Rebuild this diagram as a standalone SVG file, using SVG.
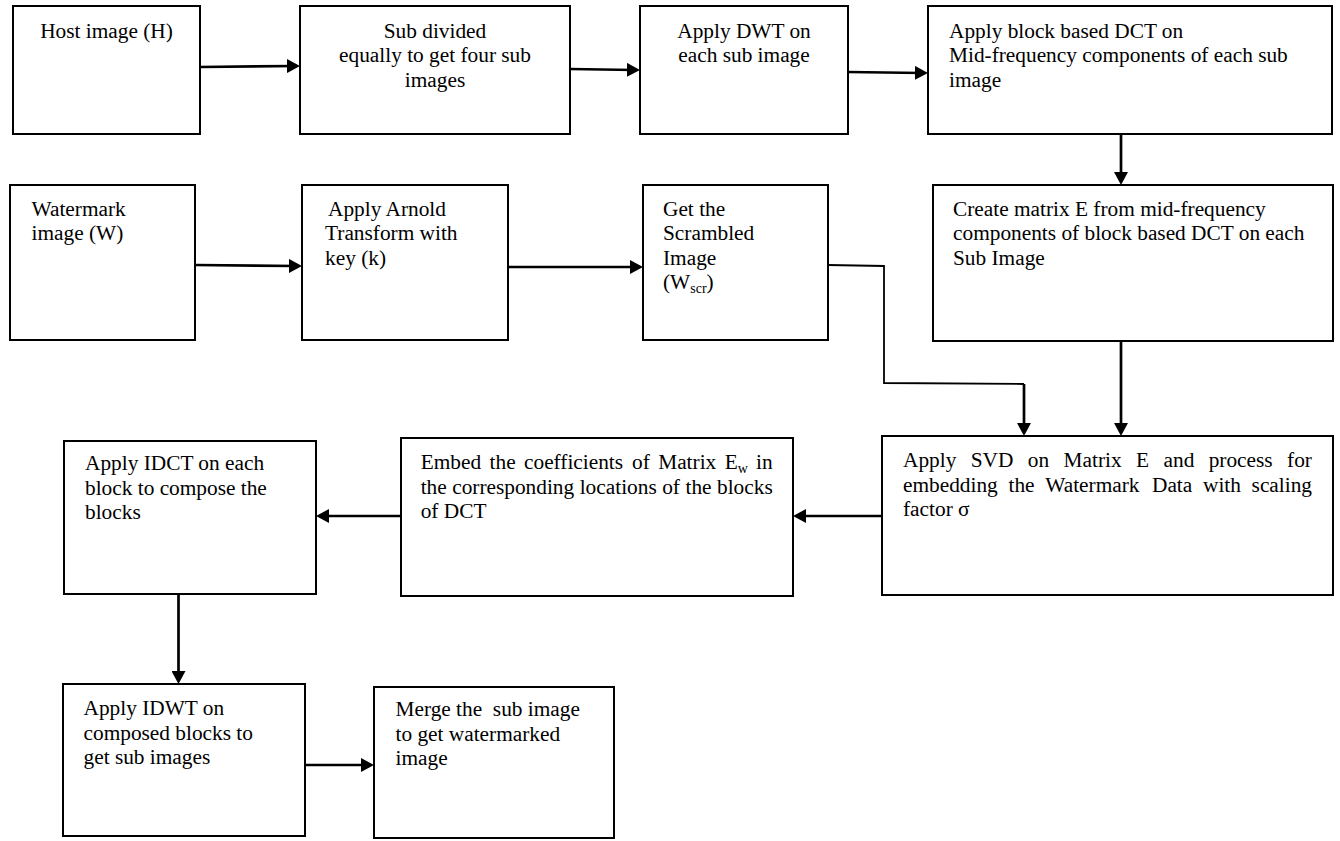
<svg xmlns="http://www.w3.org/2000/svg" width="1340" height="841" viewBox="0 0 1340 841">
<defs>
<style>
.box{fill:#fff;stroke:#000;stroke-width:2}
.t{font-family:"Liberation Serif","Times New Roman",serif;font-size:21.33px;fill:#000}
.c{text-anchor:middle}
.conn{stroke:#000;stroke-width:2.7;fill:none;marker-end:url(#ah)}
.thin{stroke:#000;stroke-width:1.8;fill:none}
</style>
<marker id="ah" viewBox="0 0 10 10" refX="5.4" refY="5" markerUnits="userSpaceOnUse" markerWidth="13" markerHeight="14" preserveAspectRatio="none" orient="auto">
<path d="M0,0 L10,5 L0,10 z" fill="#000"/>
</marker>
</defs>
<rect width="1340" height="841" fill="#fff"/>

<g id="connectors">
<path class="conn" d="M200,67 L294,66"/>
<path class="conn" d="M570,69 L634,70"/>
<path class="conn" d="M848,72 L922,73"/>
<path class="conn" d="M1121,134 L1121,179"/>
<path class="conn" d="M195,265 L296,266"/>
<path class="conn" d="M508,267 L637,267"/>
<path class="thin" d="M828,265 L884,266 L884,383 L1024,384"/>
<path class="conn" d="M1024,384 L1024,430"/>
<path class="conn" d="M1121,341 L1121,430"/>
<path class="conn" d="M882,516 L799,516"/>
<path class="conn" d="M401,516 L322,516"/>
<path class="conn" d="M178.5,594 L178.5,678"/>
<path class="conn" d="M305,765 L368,765"/>
</g>

<g id="host">
<rect class="box" x="13" y="6" width="187" height="128"/>
<text class="t c" x="106.5" y="37.5">Host image (H)</text>
</g>

<g id="subdivide">
<rect class="box" x="300" y="6" width="270" height="128"/>
<text class="t c"><tspan x="435" y="37.5">Sub divided</tspan><tspan x="435" y="62">equally to get four sub</tspan><tspan x="435" y="86.5">images</tspan></text>
</g>

<g id="dwt">
<rect class="box" x="640" y="6" width="208" height="128"/>
<text class="t c"><tspan x="744" y="37.5">Apply DWT on</tspan><tspan x="744" y="62">each sub image</tspan></text>
</g>

<g id="dct">
<rect class="box" x="928" y="6" width="404" height="128"/>
<text class="t"><tspan x="949" y="37.5">Apply block based DCT on</tspan><tspan x="949" y="62">Mid-frequency components of each sub</tspan><tspan x="949" y="86.5">image</tspan></text>
</g>

<g id="watermark">
<rect class="box" x="10" y="185" width="185" height="155"/>
<text class="t"><tspan x="31.5" y="215.5">Watermark</tspan><tspan x="31.5" y="240">image (W)</tspan></text>
</g>

<g id="arnold">
<rect class="box" x="302" y="185" width="206" height="155"/>
<text class="t"><tspan x="328" y="215.5">Apply Arnold</tspan><tspan x="325" y="240">Transform with</tspan><tspan x="325" y="264.5">key (k)</tspan></text>
</g>

<g id="scrambled">
<rect class="box" x="643" y="185" width="185" height="155"/>
<text class="t"><tspan x="663" y="215.5">Get the</tspan><tspan x="663" y="240">Scrambled</tspan><tspan x="663" y="264.5">Image</tspan><tspan x="663" y="289">(W</tspan><tspan font-size="14" dy="4">scr</tspan><tspan dy="-4">)</tspan></text>
</g>

<g id="creatematrix">
<rect class="box" x="933" y="185" width="400" height="156"/>
<text class="t"><tspan x="953" y="215.5">Create matrix E from mid-frequency</tspan><tspan x="953" y="240">components of block based DCT on each</tspan><tspan x="953" y="264.5">Sub Image</tspan></text>
</g>

<g id="svd">
<rect class="box" x="882" y="436" width="451" height="159"/>
<text class="t"><tspan x="903" y="467">Apply</tspan><tspan x="970.7">SVD</tspan><tspan x="1027.8">on</tspan><tspan x="1063.6">Matrix</tspan><tspan x="1136">E</tspan><tspan x="1163.5">and</tspan><tspan x="1208.7">process</tspan><tspan x="1287.1">for</tspan><tspan x="903" y="491.5">embedding</tspan><tspan x="1008.5">the</tspan><tspan x="1045.3">Watermark</tspan><tspan x="1152">Data</tspan><tspan x="1203">with</tspan><tspan x="1251.6">scaling</tspan><tspan x="903" y="516">factor σ</tspan></text>
</g>

<g id="embed">
<rect class="box" x="401" y="438" width="392" height="158"/>
<text class="t"><tspan x="420.7" y="469">Embed</tspan><tspan x="489.6">the</tspan><tspan x="524">coefficients</tspan><tspan x="632">of</tspan><tspan x="658.2">Matrix</tspan><tspan x="724.7">E</tspan><tspan font-size="14" dy="4">w</tspan><tspan x="756.1" dy="-4">in</tspan><tspan x="420.7" y="493.5">the</tspan><tspan x="452.2">corresponding</tspan><tspan x="579.7">locations</tspan><tspan x="662.2">of</tspan><tspan x="685.5">the</tspan><tspan x="717">blocks</tspan><tspan x="420.7" y="518">of DCT</tspan></text>
</g>

<g id="idct">
<rect class="box" x="64" y="441" width="252" height="153"/>
<text class="t"><tspan x="85" y="470">Apply IDCT on each</tspan><tspan x="85" y="494.5">block to compose the</tspan><tspan x="85" y="519">blocks</tspan></text>
</g>

<g id="idwt">
<rect class="box" x="63" y="684" width="242" height="152"/>
<text class="t"><tspan x="83.5" y="715">Apply IDWT on</tspan><tspan x="83.5" y="739.5">composed blocks to</tspan><tspan x="83.5" y="764">get sub images</tspan></text>
</g>

<g id="merge">
<rect class="box" x="374" y="687" width="240" height="151"/>
<text class="t" xml:space="preserve"><tspan x="395.5" y="716">Merge the  sub image</tspan><tspan x="395.5" y="740.5">to get watermarked</tspan><tspan x="395.5" y="765">image</tspan></text>
</g>
</svg>
